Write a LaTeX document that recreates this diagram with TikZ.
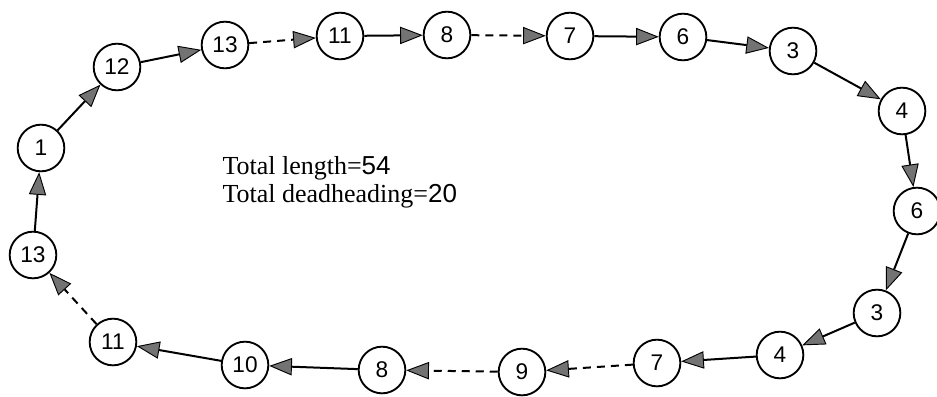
\documentclass[tikz,border=0pt]{standalone}
\usepackage{fontspec}
\setmainfont{Liberation Serif}
\newfontfamily\labelfont{Liberation Sans}
\usetikzlibrary{arrows.meta}

\tikzset{every picture/.style={line width=0.75pt}}
\tikzset{
  stop/.style={circle,draw,line width=1.4pt,minimum size=35pt,inner sep=0pt,
    font=\labelfont\fontsize{17}{20}\selectfont},
  route/.style={line width=1.5pt,
    -{Triangle[length=17pt,width=13pt,fill=black!55,line width=0.7pt]}},
  deadhead/.style={route,dash pattern=on 6pt off 4.5pt},
}

\begin{document}
\begin{tikzpicture}[x=0.75pt,y=0.75pt,yscale=-1,xscale=1]
\useasboundingbox (0,0) rectangle (937,396);

% stops, going round the tour
\node[stop] (a1)  at (41,148)  {1};
\node[stop] (a12) at (117,67)  {12};
\node[stop] (a13) at (225,45)  {13};
\node[stop] (b11) at (340,36)  {11};
\node[stop] (b8)  at (447,35)  {8};
\node[stop] (b7)  at (570,36)  {7};
\node[stop] (b6)  at (683,37)  {6};
\node[stop] (b3)  at (793,51)  {3};
\node[stop] (b4)  at (902,111) {4};
\node[stop] (c6)  at (917,211) {6};
\node[stop] (c3)  at (877,313) {3};
\node[stop] (c4)  at (780,355) {4};
\node[stop] (c7)  at (657,363) {7};
\node[stop] (c9)  at (522,372) {9};
\node[stop] (c8)  at (382,370) {8};
\node[stop] (c10) at (245,365) {10};
\node[stop] (c11) at (113,342) {11};
\node[stop] (c13) at (33,255)  {13};

% service legs (solid) and deadheading legs (dashed)
\draw[route]    (a1)  -- (a12);
\draw[route]    (a12) -- (a13);
\draw[deadhead] (a13) -- (b11);
\draw[route]    (b11) -- (b8);
\draw[deadhead] (b8)  -- (b7);
\draw[route]    (b7)  -- (b6);
\draw[route]    (b6)  -- (b3);
\draw[route]    (b3)  -- (b4);
\draw[route]    (b4)  -- (c6);
\draw[route]    (c6)  -- (c3);
\draw[route]    (c3)  -- (c4);
\draw[route]    (c4)  -- (c7);
\draw[deadhead] (c7)  -- (c9);
\draw[deadhead] (c9)  -- (c8);
\draw[route]    (c8)  -- (c10);
\draw[route]    (c10) -- (c11);
\draw[deadhead] (c11) -- (c13);
\draw[route]    (c13) -- (a1);

% Text Node
\node[anchor=base west,inner sep=0pt,font=\fontsize{19.5}{23}\selectfont] (len) at (222,174)
  {Total length={\labelfont 54}};
% Text Node
\node[anchor=base west,inner sep=0pt,font=\fontsize{19.5}{23}\selectfont] (dead) at (222,202)
  {Total deadheading={\labelfont 20}};

\end{tikzpicture}
\end{document}
